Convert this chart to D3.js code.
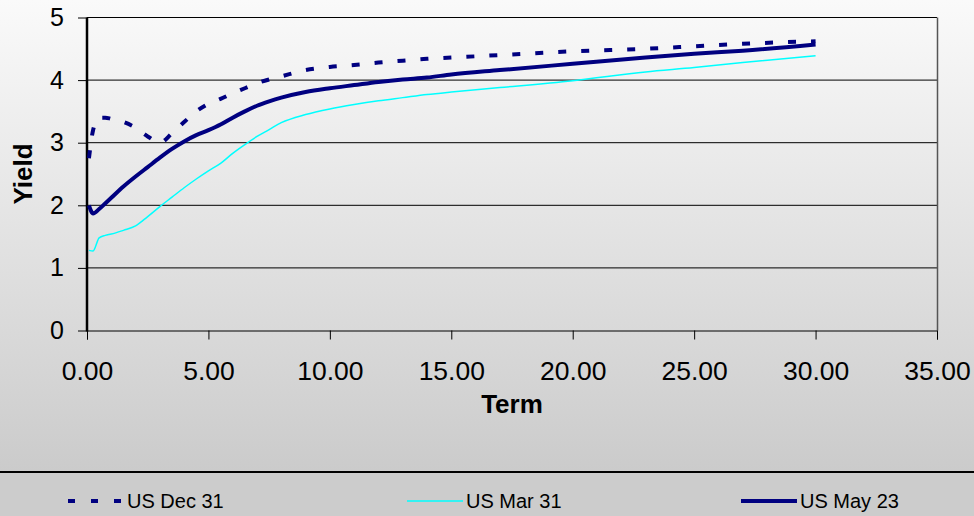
<!doctype html>
<html>
<head>
    <title>Yield curves</title>
    <script src="https://d3js.org/d3.v7.min.js"></script>
</head>
<style>
    body { margin: 0; }
    text { font-family: "Liberation Sans", Arial, sans-serif; fill: #000; }
    .tick-label { font-size: 25px; }
    .x-label { font-size: 26.5px; }
    .axis-title { font-size: 26px; font-weight: bold; }
    .legend-label { font-size: 20px; }
</style>
<body>
<script>

// chart data
var terms = [0.08, 0.25, 0.5, 0.75, 1, 1.5, 2, 2.5, 3, 3.5, 4, 4.5, 5, 5.5, 6, 6.5, 7, 7.5, 8, 9, 10, 11, 12, 13, 14, 15, 17, 20, 23, 25, 27, 30];
var usDec31 = [2.75, 3.20, 3.40, 3.40, 3.38, 3.33, 3.24, 3.10, 3.00, 3.15, 3.33, 3.50, 3.62, 3.70, 3.79, 3.87, 3.95, 4.01, 4.06, 4.16, 4.21, 4.24, 4.28, 4.31, 4.34, 4.36, 4.40, 4.46, 4.50, 4.54, 4.58, 4.62];
var usMar31 = [1.28, 1.27, 1.48, 1.52, 1.54, 1.60, 1.67, 1.82, 1.98, 2.13, 2.28, 2.42, 2.55, 2.67, 2.83, 2.97, 3.10, 3.21, 3.32, 3.45, 3.54, 3.61, 3.67, 3.72, 3.77, 3.81, 3.88, 3.99, 4.13, 4.20, 4.28, 4.39];
var usMay23 = [2.00, 1.87, 1.94, 2.03, 2.12, 2.30, 2.46, 2.61, 2.76, 2.90, 3.02, 3.12, 3.20, 3.29, 3.40, 3.50, 3.59, 3.66, 3.72, 3.81, 3.87, 3.92, 3.97, 4.01, 4.04, 4.09, 4.16, 4.26, 4.36, 4.42, 4.47, 4.57];
var seriesNames = ['US Dec 31', 'US Mar 31', 'US May 23'];
var xTicks = [0, 5, 10, 15, 20, 25, 30, 35];
var yTicks = [0, 1, 2, 3, 4, 5];

var width = 974, height = 516;
var plotLeft = 87, plotRight = 937, plotTop = 17.5, plotBottom = 330.5;
var legendTop = 472;

var svg = d3.select('body').append('svg')
    .attr('width', width)
    .attr('height', height);

// background gradient
var grad = svg.append('defs').append('linearGradient')
    .attr('id', 'bg')
    .attr('x1', 0).attr('y1', 0).attr('x2', 0).attr('y2', 1);
grad.append('stop').attr('offset', '0%').attr('stop-color', '#fafafa');
grad.append('stop').attr('offset', '100%').attr('stop-color', '#cbcbcb');

svg.append('rect')
    .attr('width', width).attr('height', legendTop)
    .attr('fill', 'url(#bg)');
svg.append('rect')
    .attr('y', legendTop).attr('width', width).attr('height', height - legendTop)
    .attr('fill', '#cccccc');
svg.append('line')
    .attr('x1', 0).attr('x2', width)
    .attr('y1', legendTop).attr('y2', legendTop)
    .attr('stroke', '#000').attr('stroke-width', 2);

// scales
var xScale = d3.scaleLinear().domain([0, 35]).range([plotLeft, plotRight]);
var yScale = d3.scaleLinear().domain([0, 5]).range([plotBottom, plotTop]);

// gridlines
svg.append('g').selectAll('line')
    .data(yTicks.filter(function(d) { return d > 0; }))
    .enter().append('line')
    .attr('x1', plotLeft).attr('x2', plotRight)
    .attr('y1', function(d) { return yScale(d); })
    .attr('y2', function(d) { return yScale(d); })
    .attr('stroke', '#000').attr('stroke-width', 1);

// right border
svg.append('line')
    .attr('x1', plotRight + 0.5).attr('x2', plotRight + 0.5)
    .attr('y1', plotTop).attr('y2', plotBottom)
    .attr('stroke', '#555').attr('stroke-width', 1.5);

// x axis
var xAxis = d3.axisBottom(xScale)
    .tickValues(xTicks)
    .tickSize(9)
    .tickPadding(22)
    .tickFormat(d3.format('.2f'));
var gx = svg.append('g')
    .attr('transform', 'translate(0,' + plotBottom + ')')
    .call(xAxis);
gx.select('.domain').attr('stroke', '#000');
gx.selectAll('.tick line').attr('stroke', '#000');
gx.selectAll('.tick text').attr('class', 'x-label');
gx.attr('font-size', null).attr('font-family', null);

// y axis
var yAxis = d3.axisLeft(yScale)
    .tickValues(yTicks)
    .tickSize(9)
    .tickPadding(14)
    .tickFormat(d3.format('d'));
var gy = svg.append('g')
    .attr('transform', 'translate(' + plotLeft + ',0)')
    .call(yAxis);
gy.select('.domain').remove();
gy.selectAll('.tick line').attr('stroke', '#000');
gy.selectAll('.tick text').attr('class', 'tick-label');
gy.attr('font-size', null).attr('font-family', null);

svg.append('line')
    .attr('x1', plotLeft).attr('x2', plotLeft)
    .attr('y1', plotTop).attr('y2', plotBottom + 1)
    .attr('stroke', '#000').attr('stroke-width', 2.5);

// axis titles
svg.append('text')
    .attr('class', 'axis-title')
    .attr('x', (plotLeft + plotRight) / 2)
    .attr('y', 413)
    .attr('text-anchor', 'middle')
    .text('Term');

svg.append('text')
    .attr('class', 'axis-title')
    .attr('transform', 'translate(32,' + (plotTop + plotBottom) / 2 + ') rotate(-90)')
    .attr('text-anchor', 'middle')
    .text('Yield');

// series lines
var series = [
    { name: seriesNames[0], values: usDec31, color: '#000080', width: 4, dash: '8,15' },
    { name: seriesNames[1], values: usMar31, color: '#00ffff', width: 1.5, dash: null },
    { name: seriesNames[2], values: usMay23, color: '#000080', width: 4, dash: null }
];

var line = d3.line()
    .x(function(d) { return xScale(d[0]); })
    .y(function(d) { return yScale(d[1]); })
    .curve(d3.curveMonotoneX);

svg.append('g').selectAll('path')
    .data(series)
    .enter().append('path')
    .attr('d', function(s) { return line(terms.map(function(t, i) { return [t, s.values[i]]; })); })
    .attr('fill', 'none')
    .attr('stroke', function(s) { return s.color; })
    .attr('stroke-width', function(s) { return s.width; })
    .attr('stroke-dasharray', function(s) { return s.dash; });

// legend
var legendX = [68, 407, 741];
var legendY = 501;
var items = svg.append('g').selectAll('g')
    .data(series)
    .enter().append('g')
    .attr('transform', function(d, i) { return 'translate(' + legendX[i] + ',' + legendY + ')'; });

items.append('line')
    .attr('x1', 0).attr('x2', 56)
    .attr('stroke', function(s) { return s.color; })
    .attr('stroke-width', function(s) { return s.width; })
    .attr('stroke-dasharray', function(s) { return s.dash ? '7,16' : null; });

items.append('text')
    .attr('class', 'legend-label')
    .attr('x', 59)
    .attr('y', 7)
    .text(function(s) { return s.name; });

</script>
</body>
</html>
